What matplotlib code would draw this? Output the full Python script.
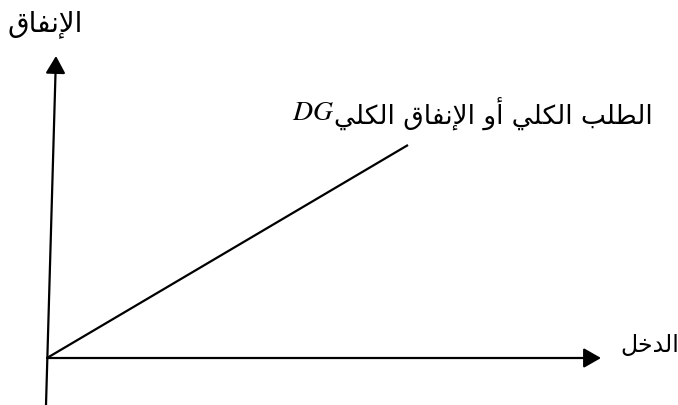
import matplotlib
matplotlib.use("Agg")
import matplotlib.pyplot as plt

plt.rcParams['font.family'] = ['DejaVu Sans']
plt.rcParams['mathtext.fontset'] = 'stix'

# ---- labels ----
y_label = "الإنفاق"
x_label = "الدخل"
curve_label = "الطلب الكلي أو الإنفاق الكلي"
curve_symbol = "DG"

# ---- diagram geometry (pixel-like data units, y grows downward) ----
origin = (47, 358)
y_axis_start = (46, 405)
y_axis_tip = (56, 56)
x_axis_tip = (601, 358)
dg_x = [47, 408]
dg_y = [358, 145]

# ---- minimal Arabic shaper (presentation forms) ----
FORMS = {
    'ا': (0xFE8D, 0xFE8E, None, None),
    'أ': (0xFE83, 0xFE84, None, None),
    'إ': (0xFE87, 0xFE88, None, None),
    'ب': (0xFE8F, 0xFE90, 0xFE91, 0xFE92),
    'خ': (0xFEA5, 0xFEA6, 0xFEA7, 0xFEA8),
    'د': (0xFEA9, 0xFEAA, None, None),
    'ط': (0xFEC1, 0xFEC2, 0xFEC3, 0xFEC4),
    'ف': (0xFED1, 0xFED2, 0xFED3, 0xFED4),
    'ق': (0xFED5, 0xFED6, 0xFED7, 0xFED8),
    'ك': (0xFED9, 0xFEDA, 0xFEDB, 0xFEDC),
    'ل': (0xFEDD, 0xFEDE, 0xFEDF, 0xFEE0),
    'ن': (0xFEE5, 0xFEE6, 0xFEE7, 0xFEE8),
    'و': (0xFEED, 0xFEEE, None, None),
    'ي': (0xFEF1, 0xFEF2, 0xFEF3, 0xFEF4),
}
LAMALEF = {'ا': (0xFEFB, 0xFEFC), 'أ': (0xFEF7, 0xFEF8), 'إ': (0xFEF9, 0xFEFA)}


def dual(c):
    return c in FORMS and FORMS[c][2] is not None


def shape(text):
    chars = list(text)
    out = []
    i = 0
    n = len(chars)
    while i < n:
        c = chars[i]
        if c not in FORMS:
            out.append(c)
            i += 1
            continue
        prev = chars[i - 1] if i > 0 else ''
        join_prev = dual(prev)
        if c == 'ل' and i + 1 < n and chars[i + 1] in LAMALEF:
            iso, fin = LAMALEF[chars[i + 1]]
            out.append(chr(fin if join_prev else iso))
            i += 2
            continue
        nxt = chars[i + 1] if i + 1 < n else ''
        join_next = dual(c) and nxt in FORMS
        iso, fin, ini, med = FORMS[c]
        if join_prev and join_next:
            code = med
        elif join_prev:
            code = fin
        elif join_next:
            code = ini
        else:
            code = iso
        out.append(chr(code))
        i += 1
    return ''.join(reversed(out))


fig = plt.figure(figsize=(6.78, 4.05), dpi=100)
ax = fig.add_axes([0, 0, 1, 1])
ax.set_xlim(0, 678)
ax.set_ylim(405, 0)
ax.axis('off')

lw = 1.6
arrow = dict(arrowstyle='-|>,head_length=1.05,head_width=0.6', lw=lw,
             color='black', mutation_scale=10, shrinkA=0, shrinkB=0)

ax.annotate('', xy=y_axis_tip, xytext=y_axis_start, arrowprops=arrow)
ax.annotate('', xy=x_axis_tip, xytext=origin, arrowprops=arrow)
ax.plot(dg_x, dg_y, color='black', lw=lw, solid_capstyle='butt')

ax.text(45, 24, shape(y_label), fontsize=20, ha='center', va='center')
ax.text(650, 345, shape(x_label), fontsize=17, ha='center', va='center')
ax.text(334, 114, shape(curve_label), fontsize=19, ha='left', va='center')
ax.text(334, 112, '$' + curve_symbol + '$', fontsize=20, ha='right', va='center')

fig.savefig('out.png', dpi=100)
